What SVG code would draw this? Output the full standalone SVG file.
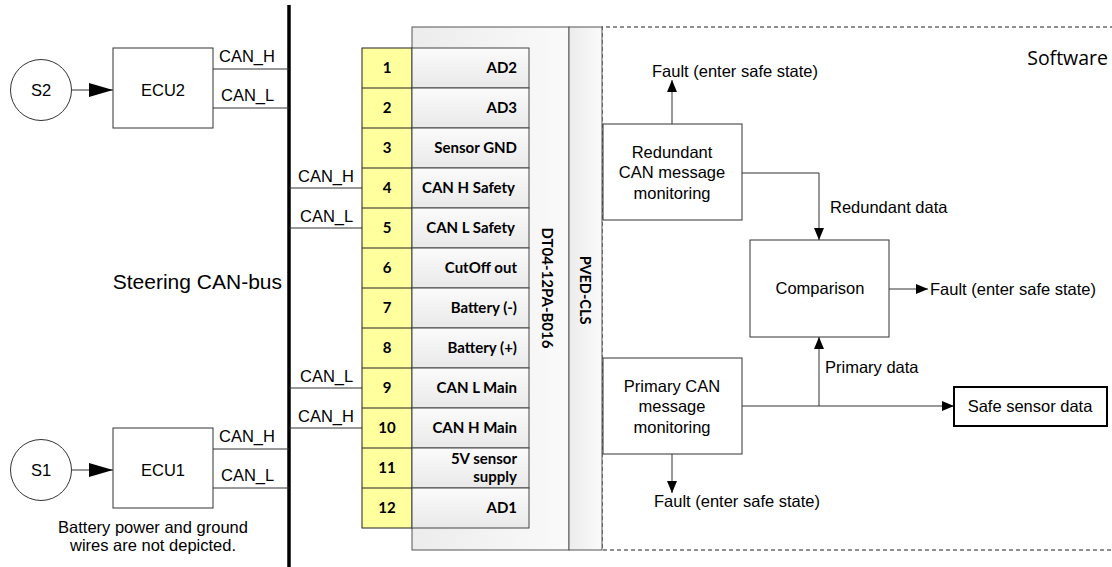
<svg xmlns="http://www.w3.org/2000/svg" width="1112" height="567" viewBox="0 0 1112 567">
<style>
.t{font-family:"Liberation Sans",Arial,sans-serif;font-size:16.5px;fill:#000}
.c{text-anchor:middle}
.b{fill:#fff;stroke:#333;stroke-width:1}
.ln{fill:none;stroke:#333;stroke-width:1}
.pin{fill:#ffff9e;stroke:#222;stroke-width:1}
.cell{fill:url(#gc);stroke:#444;stroke-width:1}
.pn{font-family:Lato,"Open Sans",sans-serif;font-weight:bold;font-size:15px;text-anchor:middle}
.pl{font-family:Lato,"Open Sans",sans-serif;font-weight:bold;font-size:15px;text-anchor:end}
.dash{fill:none;stroke:#222;stroke-width:1.2;stroke-dasharray:4 3}
</style>
<defs>
<linearGradient id="gc" x1="0" y1="0" x2="0" y2="1"><stop offset="0" stop-color="#fbfbfb"/><stop offset="1" stop-color="#e9e9e9"/></linearGradient>
<linearGradient id="go" x1="0" y1="0" x2="1" y2="0"><stop offset="0" stop-color="#ececec"/><stop offset="1" stop-color="#fafafa"/></linearGradient>
<marker id="ar" markerWidth="12" markerHeight="10" refX="12" refY="5" orient="auto" markerUnits="userSpaceOnUse"><path d="M0,0 L12,5 L0,10 Z" fill="#000"/></marker>
<marker id="arL" markerWidth="24" markerHeight="14" refX="24" refY="7" orient="auto" markerUnits="userSpaceOnUse"><path d="M0,0 L24,7 L0,14 Z" fill="#000"/></marker>
</defs>

<g id="bus">
<line x1="289" y1="5" x2="289" y2="567" stroke="#000" stroke-width="3.5"/>
<text class="t" x="282" y="289" text-anchor="end" style="font-size:21px">Steering CAN-bus</text>
</g>

<g id="connectors">
<line class="ln" x1="72" y1="90" x2="113" y2="90" marker-end="url(#arL)"/>
<line class="ln" x1="72" y1="470" x2="113" y2="470" marker-end="url(#arL)"/>
<line class="ln" x1="213" y1="69" x2="289" y2="69"/>
<line class="ln" x1="213" y1="108" x2="289" y2="108"/>
<line class="ln" x1="213" y1="449" x2="289" y2="449"/>
<line class="ln" x1="213" y1="488" x2="289" y2="488"/>
<line class="ln" x1="289" y1="188" x2="362" y2="188"/>
<line class="ln" x1="289" y1="228" x2="362" y2="228"/>
<line class="ln" x1="289" y1="388" x2="362" y2="388"/>
<line class="ln" x1="289" y1="428" x2="362" y2="428"/>
<line class="ln" x1="672" y1="124" x2="672" y2="80" marker-end="url(#ar)"/>
<polyline class="ln" points="742,173 819,173 819,240" marker-end="url(#ar)"/>
<line class="ln" x1="889" y1="289" x2="928" y2="289" marker-end="url(#ar)"/>
<line class="ln" x1="742" y1="406" x2="954" y2="406" marker-end="url(#ar)"/>
<line class="ln" x1="819" y1="406" x2="819" y2="337" marker-end="url(#ar)"/>
<line class="ln" x1="672" y1="454" x2="672" y2="493" marker-end="url(#ar)"/>
</g>

<g id="labels">
<text class="t" x="219" y="62">CAN_H</text>
<text class="t" x="221" y="101">CAN_L</text>
<text class="t" x="219" y="442">CAN_H</text>
<text class="t" x="221" y="481">CAN_L</text>
<text class="t" x="298" y="182">CAN_H</text>
<text class="t" x="300" y="222">CAN_L</text>
<text class="t" x="300" y="382">CAN_L</text>
<text class="t" x="298" y="422">CAN_H</text>
<text class="t c" x="735" y="77">Fault (enter safe state)</text>
<text class="t" x="830" y="213">Redundant data</text>
<text class="t" x="930" y="295">Fault (enter safe state)</text>
<text class="t" x="825" y="373">Primary data</text>
<text class="t c" x="737" y="507">Fault (enter safe state)</text>
<text class="t c" x="153" y="533">Battery power and ground</text>
<text class="t c" x="153" y="551">wires are not depicted.</text>
</g>

<g id="S2"><circle class="b" cx="41" cy="90" r="30.5"/><text class="t c" x="41" y="96">S2</text></g>
<g id="ECU2"><rect class="b" x="113" y="48" width="100" height="80"/><text class="t c" x="163" y="96">ECU2</text></g>
<g id="S1"><circle class="b" cx="41" cy="470" r="30.5"/><text class="t c" x="41" y="476">S1</text></g>
<g id="ECU1"><rect class="b" x="113" y="428" width="100" height="80"/><text class="t c" x="163" y="476">ECU1</text></g>

<g id="software">
<path class="dash" d="M1114,27 L602,27 L602,550 L1114,550"/>
<text x="1108" y="65" text-anchor="end" style="font-family:'Open Sans',Lato,sans-serif;font-size:19.5px">Software</text>
</g>

<g id="connector-DT04">
<rect x="412" y="27" width="157" height="523" fill="url(#go)" stroke="#555" stroke-width="1"/>
<text class="pn" transform="translate(542,288) rotate(90)">DT04-12PA-B016</text>
</g>
<g id="PVED-CLS">
<rect x="569" y="27" width="33" height="523" fill="url(#go)" stroke="#555" stroke-width="1"/>
<text class="pn" transform="translate(580,290) rotate(90)" style="font-size:14.5px">PVED-CLS</text>
</g>

<g id="pins">
<rect class="pin" x="362" y="48" width="50" height="480"/>
<rect class="cell" x="412" y="48" width="117" height="40"/>
<rect class="cell" x="412" y="88" width="117" height="40"/>
<rect class="cell" x="412" y="128" width="117" height="40"/>
<rect class="cell" x="412" y="168" width="117" height="40"/>
<rect class="cell" x="412" y="208" width="117" height="40"/>
<rect class="cell" x="412" y="248" width="117" height="40"/>
<rect class="cell" x="412" y="288" width="117" height="40"/>
<rect class="cell" x="412" y="328" width="117" height="40"/>
<rect class="cell" x="412" y="368" width="117" height="40"/>
<rect class="cell" x="412" y="408" width="117" height="40"/>
<rect class="cell" x="412" y="448" width="117" height="40"/>
<rect class="cell" x="412" y="488" width="117" height="40"/>
<g stroke="#222" stroke-width="1">
<line x1="362" y1="88" x2="412" y2="88"/><line x1="362" y1="128" x2="412" y2="128"/>
<line x1="362" y1="168" x2="412" y2="168"/><line x1="362" y1="208" x2="412" y2="208"/>
<line x1="362" y1="248" x2="412" y2="248"/><line x1="362" y1="288" x2="412" y2="288"/>
<line x1="362" y1="328" x2="412" y2="328"/><line x1="362" y1="368" x2="412" y2="368"/>
<line x1="362" y1="408" x2="412" y2="408"/><line x1="362" y1="448" x2="412" y2="448"/>
<line x1="362" y1="488" x2="412" y2="488"/>
</g>
<text class="pn" x="387" y="73">1</text>
<text class="pn" x="387" y="113">2</text>
<text class="pn" x="387" y="153">3</text>
<text class="pn" x="387" y="193">4</text>
<text class="pn" x="387" y="233">5</text>
<text class="pn" x="387" y="273">6</text>
<text class="pn" x="387" y="313">7</text>
<text class="pn" x="387" y="353">8</text>
<text class="pn" x="387" y="393">9</text>
<text class="pn" x="387" y="433">10</text>
<text class="pn" x="387" y="473">11</text>
<text class="pn" x="387" y="513">12</text>
<text class="pl" x="517" y="73">AD2</text>
<text class="pl" x="517" y="113">AD3</text>
<text class="pl" x="517" y="153">Sensor GND</text>
<text class="pl" x="515" y="193">CAN H Safety</text>
<text class="pl" x="515" y="233">CAN L Safety</text>
<text class="pl" x="517" y="273">CutOff out</text>
<text class="pl" x="517" y="313">Battery (-)</text>
<text class="pl" x="517" y="353">Battery (+)</text>
<text class="pl" x="517" y="393">CAN L Main</text>
<text class="pl" x="517" y="433">CAN H Main</text>
<text class="pl" x="517" y="464">5V sensor</text>
<text class="pl" x="517" y="482">supply</text>
<text class="pl" x="517" y="513">AD1</text>
</g>

<g id="redundant">
<rect class="b" x="603" y="124" width="139" height="96"/>
<text class="t c" x="672" y="158">Redundant</text>
<text class="t c" x="672" y="178">CAN message</text>
<text class="t c" x="672" y="199">monitoring</text>
</g>
<g id="comparison">
<rect class="b" x="750" y="240" width="139" height="97"/>
<text class="t c" x="820" y="294">Comparison</text>
</g>
<g id="primary">
<rect class="b" x="603" y="358" width="139" height="96"/>
<text class="t c" x="672" y="392">Primary CAN</text>
<text class="t c" x="672" y="412">message</text>
<text class="t c" x="672" y="433">monitoring</text>
</g>
<g id="safe">
<rect x="954" y="387" width="153" height="39" fill="#fff" stroke="#000" stroke-width="2"/>
<text class="t c" x="1030" y="412">Safe sensor data</text>
</g>
</svg>
